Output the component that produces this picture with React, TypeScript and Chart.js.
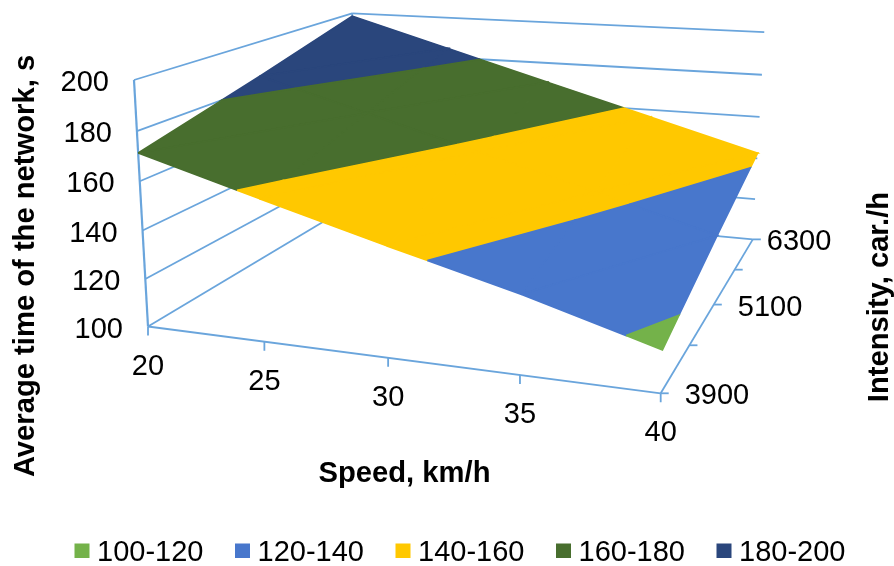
import { useEffect, useRef } from "react";
import { Chart, registerables } from "chart.js";

Chart.register(...registerables);

// Surface samples: average network time (s) per speed, one list per intensity.
const speeds = [20, 25, 30, 35, 40];
const intensities = [3900, 5100, 6300];
const avgTimeAt3900 = [171.3, 157.5, 144, 131, 116.3];
const avgTimeAt5100 = [184.5, 171, 157.5, 144, 130];
const avgTimeAt6300 = [198.6, 184.6, 170.5, 156.5, 142.5];
const surfaceRows = [avgTimeAt3900, avgTimeAt5100, avgTimeAt6300];

const bandLabels = ["100-120", "120-140", "140-160", "160-180", "180-200"];
const bandLows = [100, 120, 140, 160, 180];
const bandStep = 20;
const bandColors = ["#74B24A", "#4877CC", "#FFC800", "#486E2E", "#2A467C"];

const timeTicks = [100, 120, 140, 160, 180, 200];
const speedTicks = [20, 25, 30, 35, 40];
const intensityTicks = [3900, 4500, 5100, 5700, 6300];
const intensityLabels = [3900, 5100, 6300];

const timeTitle = "Average time of the network, s";
const speedTitle = "Speed, km/h";
const intensityTitle = "Intensity, car./h";

const WIDTH = 894;
const HEIGHT = 566;
const LINE = "#6AA5DC";
const FONT = '"Liberation Sans", Arial, sans-serif';

// Perspective box: the origin corner, the far end of each axis and the
// depth term along each axis.
const ORIGIN = [148, 326.5];
const U_END = [660.7, 393.3];
const V_END = [355.5, 202.6];
const W_END = [134, 80];
const DEPTH = { u: -0.119, v: 0.318, w: -0.044 };

const toU = (speed: number) => (speed - 20) / 20;
const toV = (intensity: number) => (intensity - 3900) / 2400;
const toW = (time: number) => (time - 100) / 100;

function project(speed: number, intensity: number, time: number) {
  const u = toU(speed);
  const v = toV(intensity);
  const w = toW(time);
  const d = 1 + DEPTH.u * u + DEPTH.v * v + DEPTH.w * w;
  const axis = (i: number) =>
    ORIGIN[i] +
    u * ((1 + DEPTH.u) * U_END[i] - ORIGIN[i]) +
    v * ((1 + DEPTH.v) * V_END[i] - ORIGIN[i]) +
    w * ((1 + DEPTH.w) * W_END[i] - ORIGIN[i]);
  return { x: axis(0) / d, y: axis(1) / d };
}

type Vertex = { s: number; n: number; t: number };

// Cuts a triangle or polygon of the surface to one side of a time level.
function clipAt(poly: Vertex[], level: number, keepAbove: boolean) {
  const inside = (p: Vertex) => (keepAbove ? p.t >= level : p.t <= level);
  const out: Vertex[] = [];
  poly.forEach((p, i) => {
    const q = poly[(i + 1) % poly.length];
    if (inside(p)) out.push(p);
    if (inside(p) !== inside(q)) {
      const k = (level - p.t) / (q.t - p.t);
      out.push({ s: p.s + k * (q.s - p.s), n: p.n + k * (q.n - p.n), t: level });
    }
  });
  return out;
}

function surfaceDatasets() {
  const sets: any[] = [];
  const triangles: Vertex[][] = [];
  for (let r = 0; r < intensities.length - 1; r++) {
    for (let c = 0; c < speeds.length - 1; c++) {
      const at = (ri: number, ci: number): Vertex => ({
        s: speeds[ci],
        n: intensities[ri],
        t: surfaceRows[ri][ci],
      });
      triangles.push([at(r, c), at(r, c + 1), at(r + 1, c + 1)]);
      triangles.push([at(r, c), at(r + 1, c + 1), at(r + 1, c)]);
    }
  }
  bandLows.forEach((low, b) => {
    triangles.forEach((tri) => {
      const piece = clipAt(clipAt(tri, low, true), low + bandStep, false);
      if (piece.length < 3) return;
      const pts = piece.map((p) => project(p.s, p.n, p.t));
      sets.push({
        label: bandLabels[b],
        data: [...pts, pts[0]],
        showLine: true,
        fill: "shape",
        backgroundColor: bandColors[b],
        borderColor: bandColors[b],
        borderWidth: 1.6,
        pointRadius: 0,
        clip: false,
      });
    });
  });
  return sets;
}

function wire(points: { x: number; y: number }[], width = 1.8) {
  return {
    data: points,
    showLine: true,
    fill: false,
    borderColor: LINE,
    borderWidth: width,
    pointRadius: 0,
    clip: false,
  };
}

function frameDatasets() {
  const s0 = speeds[0];
  const s1 = speeds[speeds.length - 1];
  const n0 = intensities[0];
  const n1 = intensities[intensities.length - 1];
  const t0 = timeTicks[0];
  const t1 = timeTicks[timeTicks.length - 1];
  const sets: any[] = [];
  timeTicks.forEach((t) => {
    sets.push(wire([project(s0, n0, t), project(s0, n1, t)]));
    sets.push(wire([project(s0, n1, t), project(s1, n1, t)]));
  });
  sets.push(wire([project(s0, n0, t0), project(s0, n0, t1)], 2.2));
  sets.push(wire([project(s0, n1, t0), project(s0, n1, t1)]));
  sets.push(wire([project(s0, n0, t0), project(s1, n0, t0)]));
  sets.push(wire([project(s1, n0, t0), project(s1, n1, t0)]));
  // Outward tick marks along the floor edges.
  speedTicks.forEach((s) => {
    const p = project(s, n0, t0);
    sets.push(wire([p, { x: p.x, y: p.y + 9 }]));
  });
  intensityTicks.forEach((n) => {
    const p = project(s1, n, t0);
    sets.push(wire([p, { x: p.x + 8, y: p.y }]));
  });
  return sets;
}

const textPlugin = {
  id: "boxText",
  afterDatasetsDraw(chart: any) {
    const { ctx, scales } = chart;
    const px = (p: { x: number; y: number }) => ({
      x: scales.x.getPixelForValue(p.x),
      y: scales.y.getPixelForValue(p.y),
    });
    ctx.save();
    ctx.fillStyle = "#000";
    ctx.textBaseline = "middle";
    ctx.font = `29px ${FONT}`;

    ctx.textAlign = "right";
    timeTicks.forEach((t) => {
      const p = px(project(speeds[0], intensities[0], t));
      ctx.fillText(String(t), p.x - 25, p.y + 3);
    });

    ctx.textAlign = "center";
    speedTicks.forEach((s) => {
      const p = px(project(s, intensities[0], timeTicks[0]));
      ctx.fillText(String(s), p.x, p.y + 40);
    });

    ctx.textAlign = "left";
    const intensityGaps = [24, 24, 14];
    intensityLabels.forEach((n, i) => {
      const p = px(project(speeds[speeds.length - 1], n, timeTicks[0]));
      ctx.fillText(String(n), p.x + intensityGaps[i], p.y + 3);
    });

    // Band key along the bottom edge.
    bandLabels.forEach((label, i) => {
      const left = 74.5 + i * 160.5;
      ctx.fillStyle = bandColors[i];
      ctx.fillRect(left, 543.5, 15, 14.5);
      ctx.fillStyle = "#000";
      ctx.fillText(label, left + 22.5, 552.5);
    });

    ctx.font = `bold 29.2px ${FONT}`;
    ctx.textAlign = "center";
    ctx.textBaseline = "alphabetic";
    ctx.fillText(speedTitle, 404.5, 481.5);

    ctx.save();
    ctx.translate(34, 266);
    ctx.rotate(-Math.PI / 2);
    ctx.fillText(timeTitle, 0, 0);
    ctx.restore();

    ctx.save();
    ctx.translate(888, 297);
    ctx.rotate(-Math.PI / 2);
    ctx.fillText(intensityTitle, 0, 0);
    ctx.restore();
    ctx.restore();
  },
};

export default function App() {
  const ref = useRef<HTMLCanvasElement>(null);
  useEffect(() => {
    document.body.style.margin = "0";
    const chart = new Chart(ref.current!, {
      type: "scatter",
      data: { datasets: [...surfaceDatasets(), ...frameDatasets()] },
      options: {
        animation: false,
        responsive: false,
        layout: { padding: 0 },
        plugins: { legend: { display: false }, tooltip: { enabled: false } },
        scales: {
          x: { type: "linear", display: false, min: 0, max: WIDTH },
          y: { type: "linear", display: false, min: 0, max: HEIGHT, reverse: true },
        },
      },
      plugins: [textPlugin],
    } as any);
    return () => chart.destroy();
  }, []);
  return <canvas ref={ref} width={WIDTH} height={HEIGHT} style={{ display: "block" }} />;
}
